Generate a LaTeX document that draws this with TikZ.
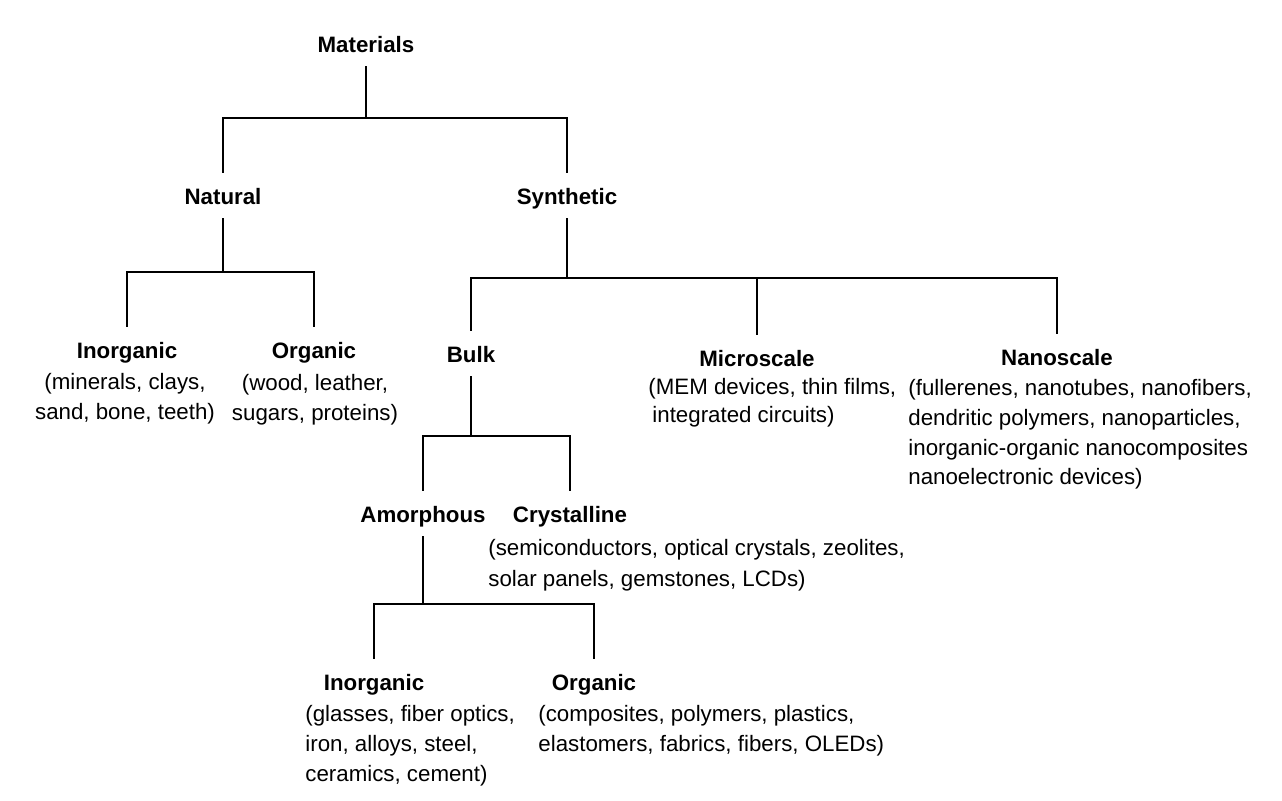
\documentclass[tikz,border=0pt]{standalone}
\usepackage{fontspec}
\setmainfont{Liberation Sans}

\begin{document}
\begin{tikzpicture}[x=0.5pt, y=-0.5pt,
    branch/.style={line width=1pt},
    catname/.style={font=\fontsize{11.15}{14}\selectfont\bfseries, anchor=base,
        inner xsep=2pt, inner ysep=4pt, text height=12pt, text depth=2.5pt},
    desc/.style={font=\fontsize{11.15}{#1}\selectfont, anchor=base west,
        align=left, inner sep=0pt},
    desc/.default=15pt]
    \useasboundingbox (0,0) rectangle (1282,801);

    % Materials
    \node[catname] (mat) at (366,53) {Materials};
    \node[catname] (nat) at (223,205) {Natural};
    \node[catname] (syn) at (567,205) {Synthetic};
    \coordinate (jmat) at (366,118);
    \draw[branch] (mat) -- (jmat);
    \draw[branch] (nat.north) |- (jmat) -| (syn.north);

    % Natural
    \node[catname] (inorg) at (127,359) {Inorganic};
    \node[catname] (org) at (314,359) {Organic};
    \coordinate (jnat) at (223,272);
    \draw[branch] (nat) -- (jnat);
    \draw[branch] (inorg.north) |- (jnat) -| (org.north);
    \node[desc, align=center, anchor=base] (inorgtxt) at (125,420) {(minerals, clays,\\sand, bone, teeth)};
    \node[desc, align=center, anchor=base] (orgtxt) at (315,421) {(wood, leather,\\sugars, proteins)};

    % Synthetic
    \node[catname] (bulk) at (471,363) {Bulk};
    \node[catname] (micro) at (757,367) {Microscale};
    \node[catname] (nano) at (1057,366) {Nanoscale};
    \coordinate (jsyn) at (567,278);
    \draw[branch] (syn) -- (jsyn);
    \draw[branch] (bulk.north) |- (jsyn) -| (nano.north);
    \draw[branch] (micro.north) -- (micro.north |- jsyn);
    \node[desc=14pt] (microtxt) at (648,423) {(MEM devices, thin films,\\\hspace{2pt}integrated circuits)};
    \node[desc=14.85pt] (nanotxt) at (908,485) {(fullerenes, nanotubes, nanofibers,\\dendritic polymers, nanoparticles,\\inorganic-organic nanocomposites\\nanoelectronic devices)};

    % Bulk
    \node[catname] (amor) at (423,523) {Amorphous};
    \node[catname] (cryst) at (570,523) {Crystalline};
    \coordinate (jbulk) at (471,436);
    \draw[branch] (bulk) -- (jbulk);
    \draw[branch] (amor.north) |- (jbulk) -| (cryst.north);
    \node[desc=15.5pt] (crysttxt) at (488,587) {(semiconductors, optical crystals, zeolites,\\solar panels, gemstones, LCDs)};

    % Amorphous
    \node[catname] (inorgb) at (374,691) {Inorganic};
    \node[catname] (orgb) at (594,691) {Organic};
    \coordinate (jamor) at (423,604);
    \draw[branch] (amor) -- (jamor);
    \draw[branch] (inorgb.north) |- (jamor) -| (orgb.north);
    \node[desc] (inorgbtxt) at (305,782) {(glasses, fiber optics,\\iron, alloys, steel,\\ceramics, cement)};
    \node[desc] (orgbtxt) at (538,752) {(composites, polymers, plastics,\\elastomers, fabrics, fibers, OLEDs)};
\end{tikzpicture}
\end{document}
